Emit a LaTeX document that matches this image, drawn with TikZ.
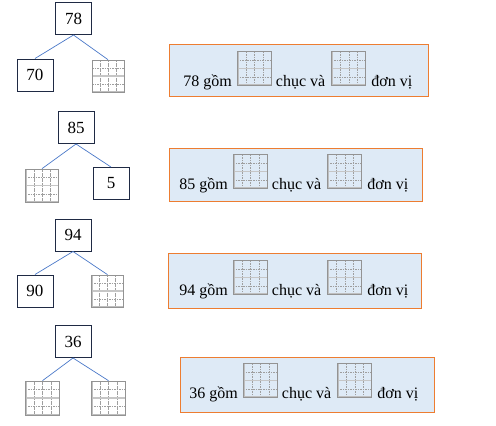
\documentclass[tikz,border=0pt]{standalone}
\usepackage{fontspec}
\setmainfont{Liberation Serif}
\usetikzlibrary{positioning,calc}

\definecolor{boxnavy}{HTML}{1F2A44}
\definecolor{linkblue}{HTML}{4A78C8}
\definecolor{frameorange}{HTML}{ED7D31}
\definecolor{fillblue}{HTML}{DEEAF6}

\tikzset{
  numbox/.style={draw=boxnavy, line width=1pt, minimum width=36pt, minimum height=32pt,
    inner sep=0pt, font=\rmfamily\fontsize{17}{20}\selectfont},
  link/.style={draw=linkblue, line width=0.7pt},
  frame/.style={draw=frameorange, fill=fillblue, line width=1pt, inner sep=0pt},
  txt/.style={inner sep=0pt, font=\rmfamily\fontsize{16}{19}\selectfont},
  gridbox/.style={draw=gray!85, line width=0.7pt, minimum width=#1, minimum height=#1,
    inner sep=0pt, path picture={
      \coordinate (pa) at (path picture bounding box.south west);
      \coordinate (pb) at (path picture bounding box.north east);
      % duong ke o ben trong
      \foreach \f in {0.25,0.5,0.75} {
        \draw[gray!75, line width=0.5pt, dash pattern=on 1.6pt off 0.9pt]
          ($(pa)!\f!(pa -| pb)$) -- ($(pb -| pa)!\f!(pb)$);
      }
      \foreach \f in {0.25,0.75} {
        \draw[gray!75, line width=0.5pt, dash pattern=on 1.6pt off 0.9pt]
          ($(pa)!\f!(pb -| pa)$) -- ($(pa -| pb)!\f!(pb)$);
      }
      \draw[gray!45, line width=1.1pt] ($(pa)!0.5!(pb -| pa)$) -- ($(pa -| pb)!0.5!(pb)$);
      % canh trai va canh duoi dam hon
      \draw[gray!50, line width=2.6pt] (pb -| pa) -- (pa) -- (pa -| pb);
    }},
  gridbox/.default=33pt
}

\begin{document}
\begin{tikzpicture}[x=1pt, y=-1pt]
    \useasboundingbox (0,0) rectangle (496,426);

    % Hang 1: 78
    \node[numbox] (t1) at (73.5,18.5) {78};
    \node[numbox] (l1) at (35,75) {70};
    \node[gridbox=32pt] (r1) at (108,76) {};
    \draw[link] (t1.south) -- (l1.north);
    \draw[link] (t1.south) -- (r1.north);
    \node[frame, minimum width=259pt, minimum height=52pt] (f1) at (298.5,70) {};
    \node[gridbox=34pt, anchor=south west] (a1) at (237,86) {};
    \node[txt, anchor=base east] (s1) at ([xshift=-5pt]a1.south west) {78 gồm};
    \node[txt, anchor=base west] (c1) at ([xshift=4pt]a1.south east) {chục và};
    \node[gridbox=34pt, anchor=south west] (b1) at ([xshift=6pt]c1.base east) {};
    \node[txt, anchor=base west] (d1) at ([xshift=5pt]b1.south east) {đơn vị};

    % Hang 2: 85
    \node[numbox] (t2) at (76,127.5) {85};
    \node[gridbox] (l2) at (42,185.5) {};
    \node[numbox] (r2) at (111,183.5) {5};
    \draw[link] (t2.south) -- (l2.north);
    \draw[link] (t2.south) -- (r2.north);
    \node[frame, minimum width=253pt, minimum height=53pt] (f2) at (295.5,174.5) {};
    \node[gridbox=34pt, anchor=south west] (a2) at (233,189) {};
    \node[txt, anchor=base east] (s2) at ([xshift=-5pt]a2.south west) {85 gồm};
    \node[txt, anchor=base west] (c2) at ([xshift=4pt]a2.south east) {chục và};
    \node[gridbox=34pt, anchor=south west] (b2) at ([xshift=6pt]c2.base east) {};
    \node[txt, anchor=base west] (d2) at ([xshift=5pt]b2.south east) {đơn vị};

    % Hang 3: 94
    \node[numbox] (t3) at (73,235) {94};
    \node[numbox] (l3) at (35,291) {90};
    \node[gridbox=32pt] (r3) at (107.5,291) {};
    \draw[link] (t3.south) -- (l3.north);
    \draw[link] (t3.south) -- (r3.north);
    \node[frame, minimum width=253pt, minimum height=55pt] (f3) at (294.5,280.5) {};
    \node[gridbox=34pt, anchor=south west] (a3) at (233,295) {};
    \node[txt, anchor=base east] (s3) at ([xshift=-5pt]a3.south west) {94 gồm};
    \node[txt, anchor=base west] (c3) at ([xshift=4pt]a3.south east) {chục và};
    \node[gridbox=34pt, anchor=south west] (b3) at ([xshift=6pt]c3.base east) {};
    \node[txt, anchor=base west] (d3) at ([xshift=5pt]b3.south east) {đơn vị};

    % Hang 4: 36
    \node[numbox] (t4) at (73,341.5) {36};
    \node[gridbox=34pt] (l4) at (42.5,398) {};
    \node[gridbox=34pt] (r4) at (108.5,398) {};
    \draw[link] (t4.south) -- (l4.north);
    \draw[link] (t4.south) -- (r4.north);
    \node[frame, minimum width=254pt, minimum height=55pt] (f4) at (307,384.5) {};
    \node[gridbox=34pt, anchor=south west] (a4) at (243,398) {};
    \node[txt, anchor=base east] (s4) at ([xshift=-5pt]a4.south west) {36 gồm};
    \node[txt, anchor=base west] (c4) at ([xshift=4pt]a4.south east) {chục và};
    \node[gridbox=34pt, anchor=south west] (b4) at ([xshift=6pt]c4.base east) {};
    \node[txt, anchor=base west] (d4) at ([xshift=5pt]b4.south east) {đơn vị};

\end{tikzpicture}
\end{document}
